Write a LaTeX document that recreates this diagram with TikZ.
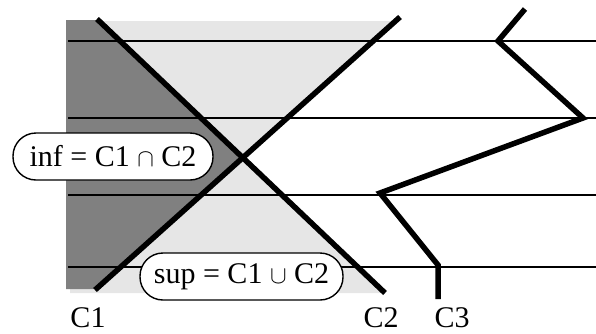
\documentclass[tikz,border=0pt]{standalone}
\usepackage{fontspec}
\setmainfont{Liberation Serif}
\begin{document}
\begin{tikzpicture}[x=1pt,y=-1pt,
  thick line/.style={line width=5.5pt},
  thin line/.style={line width=1.4pt},
  lbl/.style={font=\fontsize{30}{34}\selectfont, anchor=base, inner sep=0pt},
  pill/.style={draw, line width=1.4pt, fill=white, rounded corners=23pt,
    minimum height=47pt, inner xsep=0pt, font=\fontsize{30}{34}\selectfont}]
\useasboundingbox (0,0) rectangle (596,333);
\definecolor{dgray}{HTML}{808080}
\definecolor{lgray}{HTML}{E6E6E6}
% coordinates
\coordinate (c1a) at (95,290);
\coordinate (c1b) at (400,17);
\coordinate (c2a) at (97,19);
\coordinate (c2b) at (385,293);
\coordinate (x) at (242.8,157.7);
\coordinate (c3a) at (525,9);
\coordinate (c3b) at (498,41);
\coordinate (c3c) at (583,118);
\coordinate (c3d) at (380,193);
\coordinate (c3e) at (438,265);
\coordinate (c3f) at (438,299);
% gray regions
\fill[lgray] (70,21) -- (395.6,21) -- (x) -- (385,293) -- (70,293) -- cycle;
\fill[dgray] (66,20) -- (98,20) -- (x) -- (95,289) -- (66,289) -- cycle;
% horizontal lines
\foreach \yy/\nm in {41/h1,118/h2,195/h3,267/h4} {
  \coordinate (\nm l) at (68,\yy);
  \coordinate (\nm r) at (596,\yy);
  \draw[thin line] (\nm l) -- (\nm r);
}
% thick curves
\draw[thick line] (c1a) -- (c1b);
\draw[thick line] (c2a) -- (c2b);
\draw[thick line] (c3a) -- (c3b) -- (c3c) -- (c3d) -- (c3e) -- (c3f);
% boxes
\node[pill, minimum width=200pt] (inf) at (113,156.5) {inf = C1 $\cap$ C2};
\node[pill, minimum width=203pt] (sup) at (241.5,276.5) {sup = C1 $\cup$ C2};
% labels
\node[lbl] (l1) at (88,327) {C1};
\node[lbl] (l2) at (381,327) {C2};
\node[lbl] (l3) at (452,327) {C3};
\end{tikzpicture}
\end{document}
